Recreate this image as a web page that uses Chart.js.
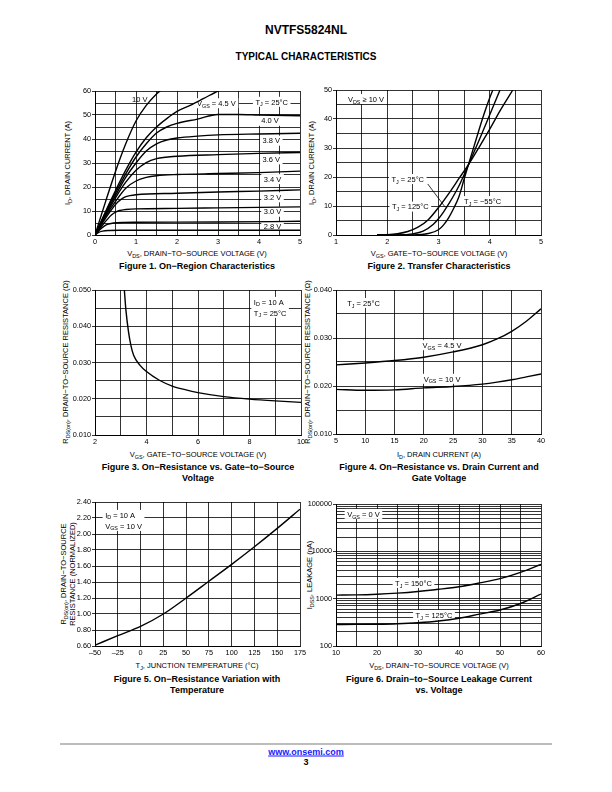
<!DOCTYPE html>
<html><head><meta charset="utf-8">
<script src="https://cdn.jsdelivr.net/npm/chart.js@4.4.0/dist/chart.umd.min.js"></script>
<style>
html,body{margin:0;padding:0;background:#fff;}
#page{position:relative;width:612px;height:792px;overflow:hidden;font-family:'Liberation Sans',Arial,Helvetica,sans-serif;color:#000;}
.t{position:absolute;white-space:nowrap;line-height:1;transform:translate(-50%,-50%);}
.r{transform:translate(-50%,-50%) rotate(-90deg);}
.ax{font-size:7.5px;}
.cap{font-size:9px;font-weight:bold;text-align:center;line-height:11px;}
.yt2{line-height:9px;text-align:center;}
sub{font-size:72%;vertical-align:baseline;position:relative;top:0.32em;line-height:0;}
canvas{position:absolute;}
</style></head>
<body><div id="page">
<div class="t" style="left:306px;top:30px;font-size:12px;font-weight:bold;">NVTFS5824NL</div>
<div class="t" style="left:306px;top:57px;font-size:10px;font-weight:bold;">TYPICAL CHARACTERISTICS</div>

<div class="t r ax" style="left:68px;top:163px;">I<sub>D</sub>, DRAIN CURRENT (A)</div>
<div class="t ax" style="left:197px;top:254px;">V<sub>DS</sub>, DRAIN−TO−SOURCE VOLTAGE (V)</div>
<div class="t cap" style="left:197px;top:266px;">Figure 1. On−Region Characteristics</div>

<div class="t r ax" style="left:312px;top:163px;">I<sub>D</sub>, DRAIN CURRENT (A)</div>
<div class="t ax" style="left:439px;top:254px;">V<sub>GS</sub>, GATE−TO−SOURCE VOLTAGE (V)</div>
<div class="t cap" style="left:439px;top:266px;">Figure 2. Transfer Characteristics</div>

<div class="t r ax" style="left:66px;top:362px;">R<sub>DS(on)</sub>, DRAIN−TO−SOURCE RESISTANCE (Ω)</div>
<div class="t ax" style="left:198px;top:455px;">V<sub>GS</sub>, GATE−TO−SOURCE VOLTAGE (V)</div>
<div class="t cap" style="left:198px;top:472.5px;">Figure 3. On−Resistance vs. Gate−to−Source<br>Voltage</div>

<div class="t r ax" style="left:308px;top:362px;">R<sub>DS(on)</sub>, DRAIN−TO−SOURCE RESISTANCE (Ω)</div>
<div class="t ax" style="left:439px;top:455px;">I<sub>D</sub>, DRAIN CURRENT (A)</div>
<div class="t cap" style="left:439px;top:472.5px;">Figure 4. On−Resistance vs. Drain Current and<br>Gate Voltage</div>

<div class="t r ax yt2" style="left:68px;top:574px;">R<sub>DS(on)</sub>, DRAIN−TO−SOURCE<br>RESISTANCE (NORMALIZED)</div>
<div class="t ax" style="left:197px;top:666px;">T<sub>J</sub>, JUNCTION TEMPERATURE (°C)</div>
<div class="t cap" style="left:197px;top:684.5px;">Figure 5. On−Resistance Variation with<br>Temperature</div>

<div class="t r ax" style="left:310px;top:575px;">I<sub>DSS</sub>, LEAKAGE (nA)</div>
<div class="t ax" style="left:439px;top:666px;">V<sub>DS</sub>, DRAIN−TO−SOURCE VOLTAGE (V)</div>
<div class="t cap" style="left:439px;top:684.5px;">Figure 6. Drain−to−Source Leakage Current<br>vs. Voltage</div>

<div style="position:absolute;left:60px;top:743px;width:492px;height:2px;background:#bdbdbd;"></div>
<div class="t" style="left:306px;top:752px;font-size:9px;font-weight:bold;color:#1a1aff;text-decoration:underline;">www.onsemi.com</div>
<div class="t" style="left:306px;top:762px;font-size:9px;font-weight:bold;">3</div>
</div>
<script>
// ---------------- DATA ----------------
// Figure 1: On-region characteristics, [VDS (V), ID (A)]
const fig1_vgs10 = [[0,0],[0.25,13.5],[0.5,26.5],[0.75,38],[1.0,47.5],[1.25,54],[1.5,58.8],[1.62,60.5]];
const fig1_vgs45 = [[0,0],[0.25,9.5],[0.5,18.5],[0.75,27],[1,34.5],[1.25,40.5],[1.5,45],[1.75,48.5],[2,51.5],[2.32,54],[2.64,56.8],[3,60],[3.1,60.8]];
const fig1_vgs40 = [[0,0],[0.25,9],[0.5,17.5],[0.75,25.5],[1,32.5],[1.25,38],[1.5,42.5],[1.75,45],[2,46.5],[2.5,48.3],[3,50.2],[3.5,50.2],[4,50],[5,49.7]];
const fig1_vgs38 = [[0,0],[0.25,8.5],[0.5,16.5],[0.75,24],[1,30],[1.25,35],[1.5,38],[1.75,39.6],[2,40.4],[2.5,41.2],[3,41.7],[4,42.1],[5,42.4]];
const fig1_vgs36 = [[0,0],[0.25,8],[0.5,15.5],[0.75,22],[1,27],[1.25,30.2],[1.5,31.8],[2,32.8],[3,33.5],[4,34],[5,34.4]];
const fig1_vgs34 = [[0,0],[0.25,7.5],[0.5,14],[0.75,19.5],[1,22.5],[1.25,24],[1.5,24.7],[2,25.2],[3,25.6],[4,26],[5,26.6]];
const fig1_vgs32 = [[0,0],[0.2,5.5],[0.4,10.5],[0.55,13.6],[0.7,15.6],[0.85,16.4],[1,16.8],[2,17.4],[3,17.9],[4,18.3],[5,18.8]];
const fig1_vgs30 = [[0,0],[0.1,2.3],[0.2,4.5],[0.3,6.5],[0.4,8.3],[0.5,9.5],[0.6,10.2],[0.75,10.6],[1,10.9],[2,11.1],[3,11.3],[4,11.5],[5,11.7]];
const fig1_vgs28 = [[0,0],[0.1,1.9],[0.2,3.4],[0.3,4.4],[0.45,5.0],[0.7,5.25],[1,5.3],[3,5.4],[5,5.7]];
const fig1_vgs26 = [[0,0],[0.08,1.0],[0.18,1.6],[0.35,1.9],[0.6,1.98],[5,2.0]];
const fig1_xTicks = [0,0.5,1,1.5,2,2.5,3,3.5,4,4.5,5];
const fig1_xLabels = [0,1,2,3,4,5];
const fig1_yTicks = [0,5,10,15,20,25,30,35,40,45,50,55,60];
const fig1_yLabels = [0,10,20,30,40,50,60];

// Figure 2: Transfer characteristics, [VGS (V), ID (A)]
const fig2_t125 = [[1.8,0],[2.0,0.1],[2.2,0.45],[2.4,1.2],[2.6,2.7],[2.8,5.3],[3.0,9.5],[3.2,14.3],[3.4,19.5],[3.6,24.7],[3.8,30.5],[4.0,36.5],[4.2,42.8],[4.45,50]];
const fig2_t25 = [[1.8,0],[2.2,0.05],[2.5,0.4],[2.7,1.3],[2.9,3.7],[3.0,5.6],[3.1,8.0],[3.2,10.7],[3.3,13.7],[3.4,17.0],[3.5,20.8],[3.6,24.8],[3.8,33],[4.0,41.5],[4.2,50]];
const fig2_tm55 = [[1.8,0],[2.5,0.05],[2.8,0.5],[3.0,1.8],[3.1,3.5],[3.2,6.0],[3.3,9.3],[3.4,13.3],[3.5,19.3],[3.6,25.2],[3.7,31],[3.8,36.8],[3.9,42.3],[4.0,47.3],[4.06,50]];
const fig2_xTicks = [1,1.5,2,2.5,3,3.5,4,4.5,5];
const fig2_xLabels = [1,2,3,4,5];
const fig2_yTicks = [0,5,10,15,20,25,30,35,40,45,50];
const fig2_yLabels = [0,10,20,30,40,50];

// Figure 3: RDS(on) vs VGS, [VGS (V), R (ohm)]
const fig3_rds = [[3.14,0.050],[3.2,0.0445],[3.3,0.0385],[3.4,0.0345],[3.5,0.032],[3.75,0.0292],[4,0.0275],[4.5,0.0251],[5,0.0235],[5.5,0.0225],[6,0.0217],[7,0.0206],[8,0.0199],[9,0.0194],[10,0.0190]];
const fig3_xTicks = [2,3,4,5,6,7,8,9,10];
const fig3_xLabels = [2,4,6,8,10];
const fig3_yTicks = [0.010,0.015,0.020,0.025,0.030,0.035,0.040,0.045,0.050];
const fig3_yLabels = [0.010,0.020,0.030,0.040,0.050];

// Figure 4: RDS(on) vs ID
const fig4_id = [5,10,15,20,25,30,32.5,35,37.5,40];
const fig4_vgs45 = [0.0244,0.0248,0.0253,0.0260,0.0271,0.0286,0.0298,0.0314,0.0335,0.0361];
const fig4_vgs10 = [0.0193,0.0191,0.0192,0.0196,0.0199,0.0204,0.0208,0.0213,0.0219,0.0225];
const fig4_xTicks = [5,10,15,20,25,30,35,40];
const fig4_yTicks = [0.010,0.015,0.020,0.025,0.030,0.035,0.040];
const fig4_yLabels = [0.010,0.020,0.030,0.040];

// Figure 5: normalized RDS(on) vs TJ
const fig5_tj = [-50,-25,0,25,50,75,100,125,150,175];
const fig5_rn = [0.61,0.73,0.845,1.0,1.2,1.41,1.62,1.84,2.07,2.31];
const fig5_xTicks = [-50,-25,0,25,50,75,100,125,150,175];
const fig5_yTicks = [0.6,0.8,1.0,1.2,1.4,1.6,1.8,2.0,2.2,2.4];

// Figure 6: IDSS leakage vs VDS (nA)
const fig6_vds = [10,15,20,25,30,35,40,45,50,55,60];
const fig6_t150 = [1190,1200,1240,1310,1420,1580,1790,2150,2650,3600,5300];
const fig6_t125 = [285,286,288,295,310,337,385,470,575,790,1250];
const fig6_xTicks = [10,15,20,25,30,35,40,45,50,55,60];
const fig6_xLabels = [10,20,30,40,50,60];
const fig6_yTicks = [100,200,300,400,500,600,700,800,900,1000,2000,3000,4000,5000,6000,7000,8000,9000,10000,20000,30000,40000,50000,60000,70000,80000,90000,100000];
const fig6_yLabels = [100,1000,10000,100000];

// ---------------- RENDERING ----------------
const FONT = "'Liberation Sans', Arial, Helvetica, sans-serif";
Chart.defaults.font.family = FONT;
Chart.defaults.font.size = 7.3;
Chart.defaults.color = '#000';
const page = document.getElementById('page');

function parseRich(s){
  const out=[]; const re=/_\{([^}]*)\}/g; let last=0,m;
  while((m=re.exec(s))){ if(m.index>last) out.push({t:s.slice(last,m.index)}); out.push({t:m[1],sub:true}); last=re.lastIndex; }
  if(last<s.length) out.push({t:s.slice(last)});
  return out;
}
const NFS = 7.5, LH = 11;
function segWidth(ctx,segs){
  let w=0; segs.forEach(s=>{ ctx.font=(s.sub?NFS*0.72:NFS)+'px '+FONT; w+=ctx.measureText(s.t).width; }); return w;
}
function makeNotes(items, leaders){
  function geom(chart){
    const ctx=chart.ctx, xs=chart.scales.x, ys=chart.scales.y;
    return items.map(it=>{
      const lines=it.text.map(parseRich);
      const ws=lines.map(l=>segWidth(ctx,l));
      const mw=Math.max(...ws);
      const cx=xs.getPixelForValue(it.x), cy=ys.getPixelForValue(it.y);
      const bw=mw+5, bh=lines.length*LH-1;
      return {it,lines,ws,mw,cx,cy,bw,bh};
    });
  }
  return {
    id:'notes',
    beforeDatasetsDraw(chart){
      const ctx=chart.ctx;
      geom(chart).forEach(g=>{
        if(g.it.box===false) return;
        ctx.save(); ctx.fillStyle='#fff';
        ctx.fillRect(g.cx-g.bw/2, g.cy-g.bh/2, g.bw, g.bh);
        ctx.restore();
      });
    },
    afterDatasetsDraw(chart){
      const ctx=chart.ctx, xs=chart.scales.x, ys=chart.scales.y;
      (leaders||[]).forEach(l=>{
        ctx.save(); ctx.strokeStyle='#000'; ctx.lineWidth=0.8; ctx.beginPath();
        ctx.moveTo(xs.getPixelForValue(l[0]), ys.getPixelForValue(l[1]));
        ctx.lineTo(xs.getPixelForValue(l[2]), ys.getPixelForValue(l[3]));
        ctx.stroke(); ctx.restore();
      });
      geom(chart).forEach(g=>{
        ctx.save(); ctx.fillStyle='#000'; ctx.textBaseline='alphabetic';
        g.lines.forEach((segs,i)=>{
          const base = g.cy - (g.lines.length-1)*LH/2 + i*LH + NFS*0.36;
          let x = g.it.align==='left' ? g.cx - g.mw/2 : g.cx - g.ws[i]/2;
          segs.forEach(s=>{
            ctx.font=(s.sub?NFS*0.72:NFS)+'px '+FONT;
            ctx.fillText(s.t, x, base + (s.sub?NFS*0.25:0));
            x += ctx.measureText(s.t).width;
          });
        });
        ctx.restore();
      });
    }
  };
}

function axis(type, min, max, ticks, labelFn, isX){
  return {
    type, min, max,
    afterBuildTicks: s => { s.ticks = ticks.map(v=>({value:v})); },
    grid:{color:'#000', lineWidth:0.8, drawTicks:!isX, tickLength:3,
      tickColor: c => (c.tick && c.tick.label !== '' && c.tick.label !== undefined) ? '#000' : 'rgba(0,0,0,0)'},
    border:{display:true, color:'#000', width:1},
    ticks:{callback:(v)=>labelFn(v), padding:isX?3:1, autoSkip:false, maxRotation:0, minRotation:0, font:{size:7.3, family:FONT}, color:'#000'}
  };
}
const inList = (list, fmt) => v => list.some(a=>Math.abs(a-v)<1e-9) ? fmt(v) : '';

function build(rect, xScale, yScale, datasets, items, leaders){
  const L=42,T=6,R=18,B=16;
  const cv=document.createElement('canvas');
  cv.width=rect.w+L+R; cv.height=rect.h+T+B;
  cv.style.left=(rect.l-L)+'px'; cv.style.top=(rect.t-T)+'px';
  cv.style.width=cv.width+'px'; cv.style.height=cv.height+'px';
  page.appendChild(cv);
  xScale.afterFit = s=>{ s.height=B; };
  yScale.afterFit = s=>{ s.width=L; };
  datasets.forEach(d=>{ d.borderColor='#000'; d.borderWidth=1.4; d.pointRadius=0; d.fill=false; d.cubicInterpolationMode='monotone'; });
  new Chart(cv,{
    type:'line',
    data:{datasets},
    options:{
      responsive:false, animation:false, devicePixelRatio:1,
      layout:{padding:{top:T,right:R,left:0,bottom:0}, autoPadding:false},
      plugins:{legend:{display:false}, tooltip:{enabled:false}},
      scales:{x:xScale, y:yScale}
    },
    plugins:[makeNotes(items, leaders)]
  });
}
const pairs = arr => arr.map(p=>({x:p[0], y:p[1]}));
const zip = (xs, ys) => xs.map((x,i)=>({x, y:ys[i]}));
const str = v => String(v);
const dash = v => v<0 ? '\u2013'+(-v) : String(v);

// Figure 1
build({l:95,t:91,w:205,h:144},
  axis('linear',0,5,fig1_xTicks,inList(fig1_xLabels,str),true),
  axis('linear',0,60,fig1_yTicks,inList(fig1_yLabels,str),false),
  [
    {label:'10 V', data:pairs(fig1_vgs10)},
    {label:'4.5 V', data:pairs(fig1_vgs45)},
    {label:'4.0 V', data:pairs(fig1_vgs40)},
    {label:'3.8 V', data:pairs(fig1_vgs38)},
    {label:'3.6 V', data:pairs(fig1_vgs36)},
    {label:'3.4 V', data:pairs(fig1_vgs34)},
    {label:'3.2 V', data:pairs(fig1_vgs32)},
    {label:'3.0 V', data:pairs(fig1_vgs30)},
    {label:'2.8 V', data:pairs(fig1_vgs28)},
    {label:'2.6 V', data:pairs(fig1_vgs26)}
  ],
  [
    {x:1.09,y:56.7,text:['10 V'],box:false},
    {x:2.96,y:54.9,text:['V_{GS} = 4.5 V']},
    {x:4.31,y:55.5,text:['T_{J} = 25°C']},
    {x:4.27,y:47.6,text:['4.0 V']},
    {x:4.3,y:39.3,text:['3.8 V']},
    {x:4.3,y:31.5,text:['3.6 V']},
    {x:4.33,y:23.3,text:['3.4 V']},
    {x:4.33,y:15.7,text:['3.2 V']},
    {x:4.33,y:9.7,text:['3.0 V']},
    {x:4.33,y:3.75,text:['2.8 V']}
  ]);

// Figure 2
build({l:336,t:90,w:205,h:145},
  axis('linear',1,5,fig2_xTicks,inList(fig2_xLabels,str),true),
  axis('linear',0,50,fig2_yTicks,inList(fig2_yLabels,str),false),
  [
    {label:'TJ = 125°C', data:pairs(fig2_t125)},
    {label:'TJ = 25°C', data:pairs(fig2_t25)},
    {label:'TJ = -55°C', data:pairs(fig2_tm55)}
  ],
  [
    {x:1.585,y:46.9,text:['V_{DS} ≥ 10 V']},
    {x:2.40,y:19.3,text:['T_{J} = 25°C']},
    {x:2.45,y:9.8,text:['T_{J} = 125°C']},
    {x:3.86,y:11.7,text:['T_{J} = −55°C']}
  ],
  [[2.79,17.6,3.13,9.6]]);

// Figure 3
build({l:95,t:290,w:206,h:145},
  axis('linear',2,10,fig3_xTicks,inList(fig3_xLabels,str),true),
  axis('linear',0.010,0.050,fig3_yTicks,inList(fig3_yLabels,v=>v.toFixed(3)),false),
  [{label:'RDS(on)', data:pairs(fig3_rds)}],
  [{x:8.8,y:0.0452,text:['I_{D} = 10 A','T_{J} = 25°C'],align:'left'}]);

// Figure 4
build({l:336,t:290,w:205,h:144},
  axis('linear',5,40,fig4_xTicks,str,true),
  axis('linear',0.010,0.040,fig4_yTicks,inList(fig4_yLabels,v=>v.toFixed(3)),false),
  [
    {label:'VGS = 4.5 V', data:zip(fig4_id,fig4_vgs45)},
    {label:'VGS = 10 V', data:zip(fig4_id,fig4_vgs10)}
  ],
  [
    {x:9.7,y:0.0373,text:['T_{J} = 25°C']},
    {x:23.1,y:0.0285,text:['V_{GS} = 4.5 V']},
    {x:23.1,y:0.0215,text:['V_{GS} = 10 V']}
  ]);

// Figure 5
build({l:95,t:502,w:205,h:144},
  axis('linear',-50,175,fig5_xTicks,dash,true),
  axis('linear',0.6,2.4,fig5_yTicks,v=>v.toFixed(2),false),
  [{label:'RDS(on) normalized', data:zip(fig5_tj,fig5_rn)}],
  [{x:-18.7,y:2.17,text:['I_{D} = 10 A','V_{GS} = 10 V'],align:'left'}]);

// Figure 6
build({l:336,t:504,w:205,h:142},
  axis('linear',10,60,fig6_xTicks,inList(fig6_xLabels,str),true),
  axis('logarithmic',100,100000,fig6_yTicks,inList(fig6_yLabels,str),false),
  [
    {label:'TJ = 150°C', data:zip(fig6_vds,fig6_t150)},
    {label:'TJ = 125°C', data:zip(fig6_vds,fig6_t125)}
  ],
  [
    {x:16.7,y:61700,text:['V_{GS} = 0 V']},
    {x:28.9,y:2148,text:['T_{J} = 150°C']},
    {x:33.9,y:452,text:['T_{J} = 125°C']}
  ]);
</script>
</body></html>
